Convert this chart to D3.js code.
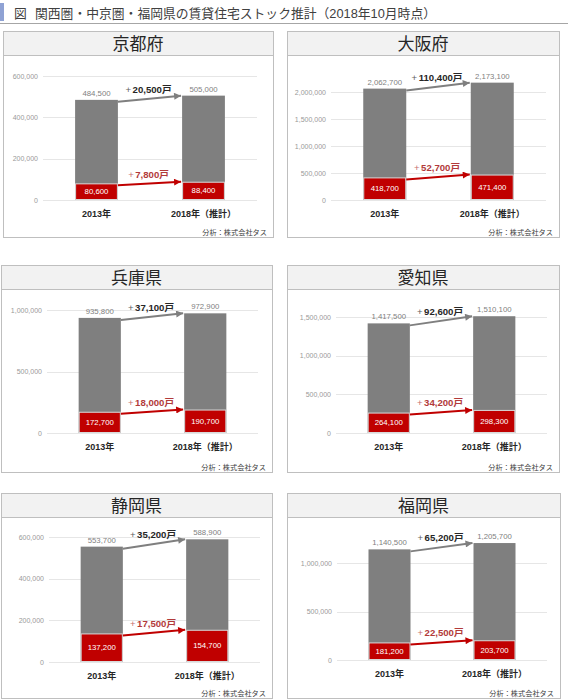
<!DOCTYPE html>
<html><head><meta charset="utf-8">
<script src="https://cdn.jsdelivr.net/npm/d3@7"></script>
<style>
body{margin:0;background:#fff}
svg{display:block}
text{font-family:"Liberation Sans","Noto Sans CJK JP",sans-serif}
</style>
</head><body>
<svg id="chart" width="568" height="700"></svg>
<script>
// ---------- DATA ----------
const figLabel = "図";
const mainTitle = "関西圏・中京圏・福岡県の賃貸住宅ストック推計（2018年10月時点）";
const prefectures = ["京都府", "大阪府", "兵庫県", "愛知県", "静岡県", "福岡県"];
const years = ["2013年", "2018年（推計）"];
const totalStock = [
  [484500, 505000],
  [2062700, 2173100],
  [935800, 972900],
  [1417500, 1510100],
  [553700, 588900],
  [1140500, 1205700]
];
const subStock = [
  [80600, 88400],
  [418700, 471400],
  [172700, 190700],
  [264100, 298300],
  [137200, 154700],
  [181200, 203700]
];
const totalIncrease = [20500, 110400, 37100, 92600, 35200, 65200];
const subIncrease = [7800, 52700, 18000, 34200, 17500, 22500];
const axisTopTick = [600000, 2000000, 1000000, 1500000, 600000, 1000000];
const axisTickStep = [200000, 500000, 500000, 500000, 200000, 500000];
const sourceNote = "分析：株式会社タス";
const unitSuffix = "戸";

// ---------- LAYOUT ----------
const panelLayout = [
  {x: 3,   y: 31,  w: 270, h: 206, zero: 169, top: 45, gl: 40, gr: 254},
  {x: 287, y: 31,  w: 272, h: 206, zero: 169, top: 61, gl: 44, gr: 259},
  {x: 1,   y: 265, w: 271, h: 207, zero: 168, top: 45, gl: 46, gr: 257},
  {x: 287, y: 265, w: 272, h: 207, zero: 168, top: 52, gl: 49, gr: 260},
  {x: 1,   y: 493, w: 271, h: 205, zero: 169, top: 44, gl: 48, gr: 259},
  {x: 287, y: 493, w: 273, h: 205, zero: 167, top: 70, gl: 50, gr: 260}
];
const headerH = 24;
const C = {
  border: "#bfbfbf", header: "#f2f2f2", grid: "#e6e6e6", tick: "#999999",
  gray: "#7f7f7f", red: "#c00000", redText: "#b23a3a", dark: "#262626"
};

const svg = d3.select("#chart");
const fmt = d3.format(",");

// markers
const defs = svg.append("defs");
[["arrGray", C.gray], ["arrRed", C.red]].forEach(([id, col]) => {
  defs.append("marker").attr("id", id)
    .attr("markerUnits", "userSpaceOnUse")
    .attr("viewBox", "0 0 10 10").attr("refX", 10).attr("refY", 5)
    .attr("markerWidth", 8).attr("markerHeight", 7).attr("orient", "auto")
    .append("path").attr("d", "M0,0L10,5L0,10Z").attr("fill", col);
});

// main title
svg.append("rect").attr("x", 0).attr("y", 3).attr("width", 4).attr("height", 18).attr("fill", "#8fa2d4");
svg.append("line").attr("x1", 0).attr("x2", 568).attr("y1", 23.5).attr("y2", 23.5)
  .attr("stroke", "#a6a6a6").attr("stroke-width", 1);
svg.append("text").attr("x", 14).attr("y", 13).attr("dominant-baseline", "central")
  .attr("font-size", 12.8).attr("fill", "#404040").text(figLabel);
svg.append("text").attr("x", 35).attr("y", 13).attr("dominant-baseline", "central")
  .attr("font-size", 12.8).attr("fill", "#404040").text(mainTitle);

prefectures.forEach((name, i) => {
  const L = panelLayout[i];
  const g = svg.append("g").attr("transform", `translate(${L.x},${L.y})`);

  g.append("rect").attr("x", 0.5).attr("y", 0.5).attr("width", L.w).attr("height", L.h)
    .attr("fill", "#fff").attr("stroke", C.border);
  g.append("rect").attr("x", 0.5).attr("y", 0.5).attr("width", L.w).attr("height", headerH)
    .attr("fill", C.header).attr("stroke", C.border);
  g.append("text").attr("x", L.w / 2).attr("y", headerH / 2 + 1)
    .attr("text-anchor", "middle").attr("dominant-baseline", "central")
    .attr("font-size", 17).attr("fill", C.dark).text(name);

  const y = d3.scaleLinear().domain([0, axisTopTick[i]]).range([L.zero, L.top]);
  const x = d3.scaleBand().domain(years).range([L.gl, L.gr]).paddingInner(0.6).paddingOuter(0.3);
  const ticks = d3.range(0, axisTopTick[i] + 1, axisTickStep[i]);

  // grid
  g.append("g").attr("transform", `translate(${L.gl},0)`)
    .call(d3.axisLeft(y).tickValues(ticks).tickSize(-(L.gr - L.gl)).tickFormat(""))
    .call(a => a.select(".domain").remove())
    .call(a => a.selectAll("line").attr("stroke", C.grid).attr("shape-rendering", "crispEdges"));
  // tick labels
  g.append("g").attr("transform", `translate(${L.gl - 5},0)`)
    .call(d3.axisLeft(y).tickValues(ticks).tickSize(0).tickPadding(0).tickFormat(fmt))
    .call(a => a.select(".domain").remove())
    .call(a => a.selectAll("text").attr("font-size", 7).attr("fill", C.tick)
      .attr("font-family", '"Liberation Sans","Noto Sans CJK JP",sans-serif'));

  const bw = x.bandwidth();
  // total bars
  g.selectAll(".tb").data(totalStock[i]).join("rect")
    .attr("x", (d, j) => x(years[j])).attr("width", bw)
    .attr("y", d => y(d)).attr("height", d => y(0) - y(d)).attr("fill", C.gray);
  // sub bars
  g.selectAll(".sb").data(subStock[i]).join("rect")
    .attr("x", (d, j) => x(years[j]) + 0.5).attr("width", bw - 1)
    .attr("y", d => y(d) + 0.5).attr("height", d => y(0) - y(d) - 1)
    .attr("fill", C.red).attr("stroke", "#d9d9d9").attr("stroke-width", 1);

  // total labels
  g.selectAll(".tl").data(totalStock[i]).join("text")
    .attr("x", (d, j) => x(years[j]) + bw / 2).attr("y", d => y(d) - 4)
    .attr("text-anchor", "middle").attr("font-size", 7.8).attr("fill", C.gray).text(fmt);
  // sub labels
  g.selectAll(".sl").data(subStock[i]).join("text")
    .attr("x", (d, j) => x(years[j]) + bw / 2).attr("y", d => (y(d) + y(0)) / 2)
    .attr("dominant-baseline", "central")
    .attr("text-anchor", "middle").attr("font-size", 7.8).attr("fill", "#fff").text(fmt);

  // arrows
  const x1 = x(years[0]) + bw, x2 = x(years[1]) - 1;
  [[totalStock[i], totalIncrease[i], C.gray, "arrGray", C.dark],
   [subStock[i], subIncrease[i], C.red, "arrRed", C.redText]].forEach(([vals, inc, col, mk, tcol]) => {
    const y1 = y(vals[0]) + 2, y2 = y(vals[1]);
    g.append("line").attr("x1", x1).attr("y1", y1).attr("x2", x2).attr("y2", y2)
      .attr("stroke", col).attr("stroke-width", 2).attr("marker-end", `url(#${mk})`);
    const t = g.append("text").attr("x", (x1 + x2) / 2 - 1).attr("y", (y1 + y2) / 2 - 10)
      .attr("text-anchor", "middle").attr("dominant-baseline", "central").attr("fill", tcol);
    t.append("tspan").attr("font-size", 9.6).attr("font-weight", "normal").attr("opacity", 0.75).text("+");
    t.append("tspan").attr("dx", 1.5).attr("font-size", 9.6).attr("font-weight", "bold").text(fmt(inc) + unitSuffix);
  });

  // x labels
  g.selectAll(".xl").data(years).join("text")
    .attr("x", d => x(d) + bw / 2).attr("y", L.zero + 14)
    .attr("text-anchor", "middle").attr("dominant-baseline", "central")
    .attr("font-size", 9).attr("font-weight", "bold").attr("fill", C.dark).text(d => d);

  // source
  g.append("text").attr("x", L.w - 6).attr("y", L.h - 5)
    .attr("text-anchor", "end").attr("dominant-baseline", "central")
    .attr("font-size", 7.2).attr("fill", "#404040").text(sourceNote);
});
</script>
</body></html>
